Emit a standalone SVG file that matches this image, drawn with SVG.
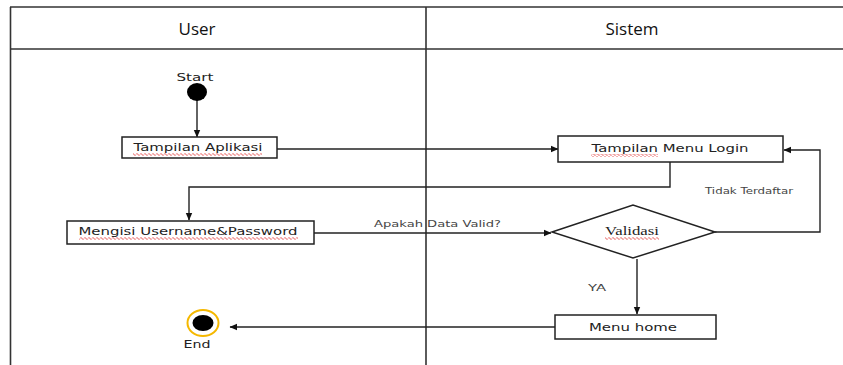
<svg xmlns="http://www.w3.org/2000/svg" width="843" height="365" viewBox="0 0 843 365">
<style>
.frame{stroke:#333;stroke-width:1.6;fill:none}
.box{fill:#fff;stroke:#222;stroke-width:1.5}
.lbl{font-family:"DejaVu Sans",Verdana,sans-serif;font-size:11px;fill:#222;text-anchor:middle}
.cl{font-family:"DejaVu Sans",Verdana,sans-serif;font-size:9.5px;fill:#444}
.hdr{font-family:"Open Sans","Liberation Sans",sans-serif;font-size:17px;fill:#111;text-anchor:middle}
.conn{fill:none;stroke:#222;stroke-width:1.4}
.sq{fill:none;stroke:#e02020;stroke-width:0.9}
</style>
<defs>
<marker id="ah" markerWidth="8" markerHeight="8" refX="7" refY="4" orient="auto" markerUnits="userSpaceOnUse">
<path d="M0,0.8 L7.5,4 L0,7.2 Z" fill="#111"/>
</marker>
<pattern id="wave" width="4" height="3" patternUnits="userSpaceOnUse">
<path d="M0,1.5 L1,0.5 L3,2.5 L4,1.5" stroke="#e02020" stroke-width="0.8" fill="none"/>
</pattern>
</defs>
<g id="swimlanes">
<line class="frame" x1="10" y1="7" x2="843" y2="7"/>
<line class="frame" x1="10" y1="49" x2="843" y2="49"/>
<line class="frame" x1="10.5" y1="7" x2="10.5" y2="365"/>
<line class="frame" x1="426" y1="7" x2="426" y2="365"/>
<text class="hdr" x="197" y="35">User</text>
<text class="hdr" x="632" y="35">Sistem</text>
</g>
<g id="connectors">
<line class="conn" x1="197" y1="100" x2="197" y2="137" marker-end="url(#ah)"/>
<line class="conn" x1="277" y1="149" x2="558" y2="149" marker-end="url(#ah)"/>
<polyline class="conn" points="670,162 670,187 189,187 189,220" marker-end="url(#ah)"/>
<line class="conn" x1="314" y1="233" x2="551" y2="233" marker-end="url(#ah)"/>
<polyline class="conn" points="715,232 820,232 820,150 784,150" marker-end="url(#ah)"/>
<line class="conn" x1="637" y1="259" x2="637" y2="314" marker-end="url(#ah)"/>
<line class="conn" x1="555" y1="327" x2="230" y2="327" marker-end="url(#ah)"/>
<text class="cl" x="374" y="227" textLength="127" lengthAdjust="spacingAndGlyphs">Apakah Data Valid?</text>
<text class="cl" x="705" y="194" font-size="8.5" textLength="88" lengthAdjust="spacingAndGlyphs">Tidak Terdaftar</text>
<text class="cl" x="588" y="291" textLength="18" lengthAdjust="spacingAndGlyphs">YA</text>
</g>
<g id="start">
<text class="lbl" x="195" y="81" textLength="37" lengthAdjust="spacingAndGlyphs">Start</text>
<ellipse cx="197" cy="92" rx="10" ry="9" fill="#000"/>
</g>
<g id="tampilan-aplikasi">
<rect class="box" x="122" y="137" width="155" height="21"/>
<text class="lbl" x="198" y="151" textLength="129" lengthAdjust="spacingAndGlyphs">Tampilan Aplikasi</text>
<rect x="133" y="153" width="129" height="3" fill="url(#wave)"/>
</g>
<g id="tampilan-menu-login">
<rect class="box" x="558" y="136" width="225" height="26"/>
<text class="lbl" x="670" y="152" textLength="157" lengthAdjust="spacingAndGlyphs">Tampilan Menu Login</text>
<rect x="591" y="154" width="67" height="3" fill="url(#wave)"/>
</g>
<g id="mengisi">
<rect class="box" x="67" y="221" width="247" height="23"/>
<text class="lbl" x="188" y="235" textLength="219" lengthAdjust="spacingAndGlyphs">Mengisi Username&amp;Password</text>
<rect x="79" y="237" width="219" height="3" fill="url(#wave)"/>
</g>
<g id="validasi">
<polygon class="box" points="552,232 633,205 715,232 633,258"/>
<text x="632" y="235" font-family="'Liberation Serif',serif" font-size="13px" fill="#222" text-anchor="middle" textLength="54" lengthAdjust="spacingAndGlyphs">Validasi</text>
<rect x="605" y="237" width="54" height="3" fill="url(#wave)"/>
</g>
<g id="menu-home">
<rect class="box" x="555" y="315" width="161" height="24"/>
<text class="lbl" x="633" y="331" textLength="88" lengthAdjust="spacingAndGlyphs">Menu home</text>
</g>
<g id="end">
<ellipse cx="203" cy="323" rx="15.5" ry="13" fill="#fff" stroke="#f5b800" stroke-width="2"/>
<ellipse cx="203" cy="323" rx="10.5" ry="8" fill="#000"/>
<text class="lbl" x="197" y="348" textLength="27" lengthAdjust="spacingAndGlyphs">End</text>
</g>
</svg>
